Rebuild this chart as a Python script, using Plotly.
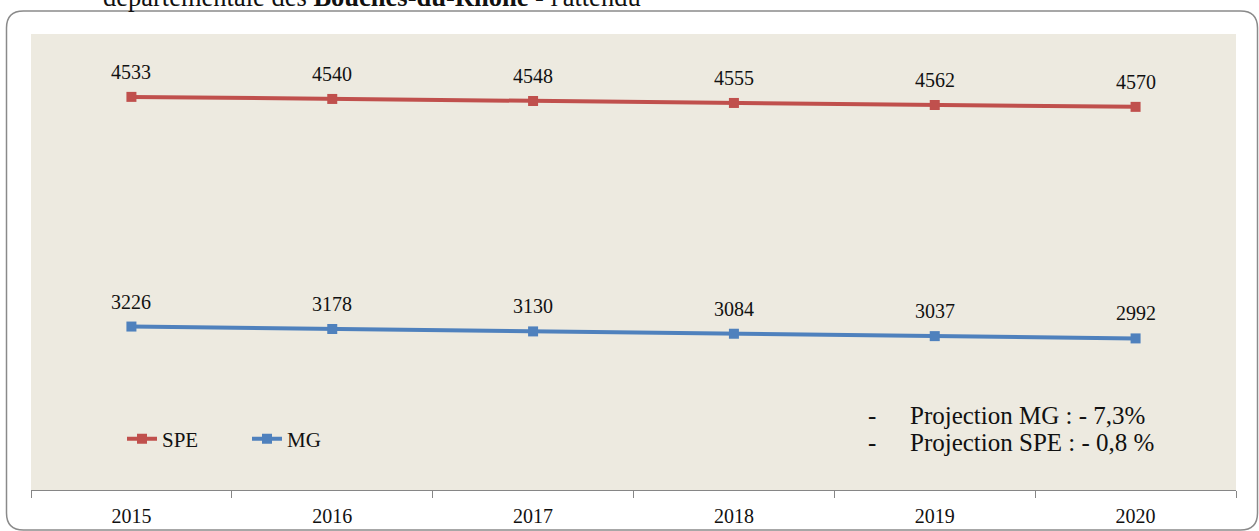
import plotly.graph_objects as go

years = ["2015", "2016", "2017", "2018", "2019", "2020"]
spe = [4533, 4540, 4548, 4555, 4562, 4570]
mg = [3226, 3178, 3130, 3084, 3037, 2992]
projection_lines = ["Projection MG : - 7,3%", "Projection SPE : - 0,8 %"]
top_text = "départementale des <b>Bouches-du-Rhône</b> - l'attendu"

W, H = 1259, 531
L, R, T, B = 31, 1236, 34, 490
FONT = "Palatino Linotype, Book Antiqua, Palatino, Liberation Serif, serif"
RED = "#C0504D"
BLUE = "#4F81BD"


def px(x):
    return (x - L) / (R - L)


def py(y):
    return (B - y) / (B - T)


fig = go.Figure()
# stacked line chart: MG at the bottom, SPE stacked on top
fig.add_trace(go.Scatter(
    x=years, y=mg, name="MG", mode="lines+markers", stackgroup="s", fill="none",
    line=dict(color=BLUE, width=4), marker=dict(symbol="square", size=10, color=BLUE),
    legendrank=2,
))
fig.add_trace(go.Scatter(
    x=years, y=spe, name="SPE", mode="lines+markers", stackgroup="s", fill="none",
    line=dict(color=RED, width=4), marker=dict(symbol="square", size=10, color=RED),
    legendrank=1,
))

ann = []
for i, yr in enumerate(years):
    ann.append(dict(xref="x", yref="y", x=i, y=mg[i], text=str(mg[i]), showarrow=False,
                    yshift=25, xanchor="center", yanchor="middle",
                    font=dict(family=FONT, size=20, color="#111")))
    ann.append(dict(xref="x", yref="y", x=i, y=mg[i] + spe[i], text=str(spe[i]),
                    showarrow=False, yshift=25, xanchor="center", yanchor="middle",
                    font=dict(family=FONT, size=20, color="#111")))

for j, (t, yc) in enumerate(zip(projection_lines, [415, 442])):
    ann.append(dict(xref="paper", yref="paper", x=px(872), y=py(yc), text="-",
                    showarrow=False, xanchor="center", yanchor="middle",
                    font=dict(family=FONT, size=25, color="#111")))
    ann.append(dict(xref="paper", yref="paper", x=px(908), y=py(yc), text=t,
                    showarrow=False, xanchor="left", yanchor="middle",
                    font=dict(family=FONT, size=25, color="#111")))

ann.append(dict(xref="paper", yref="paper", x=px(101), y=py(13.5), text=top_text,
                showarrow=False, xanchor="left", yanchor="bottom",
                font=dict(family=FONT, size=26.5, color="#111")))

# rounded outer frame
x0, x1, y0, y1, r = 6.5, 1257.5, 11, 530, 17
path = (f"M {px(x0 + r)},{py(y0)} L {px(x1 - r)},{py(y0)} "
        f"Q {px(x1)},{py(y0)} {px(x1)},{py(y0 + r)} "
        f"L {px(x1)},{py(y1 - r)} Q {px(x1)},{py(y1)} {px(x1 - r)},{py(y1)} "
        f"L {px(x0 + r)},{py(y1)} Q {px(x0)},{py(y1)} {px(x0)},{py(y1 - r)} "
        f"L {px(x0)},{py(y0 + r)} Q {px(x0)},{py(y0)} {px(x0 + r)},{py(y0)} Z")

fig.update_layout(
    width=W, height=H,
    margin=dict(l=L, r=W - R, t=T, b=H - B, pad=0, autoexpand=False),
    paper_bgcolor="white", plot_bgcolor="#EDEAE0",
    font=dict(family=FONT, size=20, color="#111"),
    showlegend=True,
    legend=dict(orientation="h", x=px(122), y=py(439), xanchor="left", yanchor="middle",
                bgcolor="rgba(0,0,0,0)", font=dict(family=FONT, size=21, color="#111"),
                entrywidth=80, traceorder="normal"),
    annotations=ann,
    shapes=[dict(type="path", xref="paper", yref="paper", path=path,
                 line=dict(color="#8A8A8A", width=1.5), layer="above")],
    xaxis=dict(type="category", range=[-0.5, 5.5], showgrid=False, zeroline=False,
               showline=True, linecolor="#868686", linewidth=1, automargin=False,
               ticks="outside", tickson="boundaries", ticklen=7, tickcolor="#868686",
               tickfont=dict(family=FONT, size=20, color="#111"), ticklabelstandoff=8,
               fixedrange=True),
    yaxis=dict(range=[0, 9000], visible=False, showgrid=False, zeroline=False,
               automargin=False, fixedrange=True),
)

css_js = (
    "var d=document.documentElement,b=document.body;"
    "d.style.margin='0';d.style.padding='0';d.style.overflow='hidden';"
    "b.style.margin='0';b.style.padding='0';b.style.overflow='hidden';"
)

fig.write_html("out.html", config={"displayModeBar": False}, post_script=css_js)
